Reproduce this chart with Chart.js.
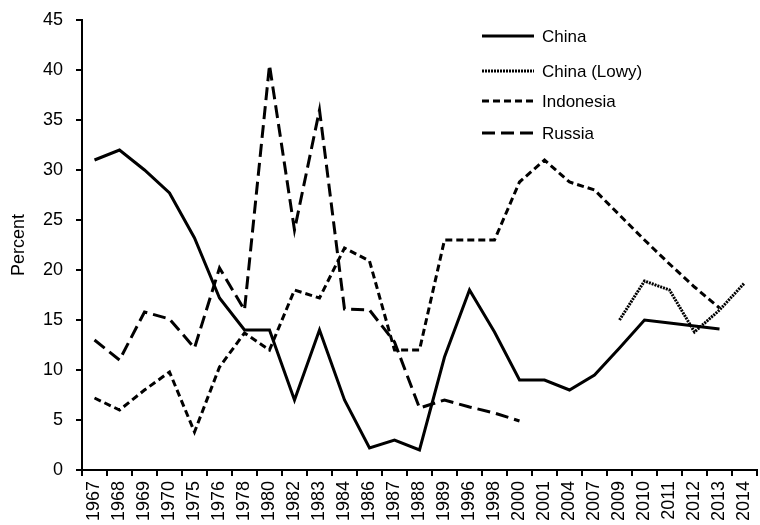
<!DOCTYPE html>
<html>
<head>
<meta charset="utf-8">
<script src="https://cdn.jsdelivr.net/npm/chart.js"></script>
<style>
  html, body { margin: 0; padding: 0; background: #fff; }
  #wrap { width: 760px; height: 525px; position: relative; }
</style>
</head>
<body>
<div id="wrap"><canvas id="chart"></canvas></div>
<script>
// categories (years, not evenly spaced)
const years = ['1967','1968','1969','1970','1975','1976','1978','1980','1982','1983','1984','1986','1987','1988','1989','1996','1998','2000','2001','2004','2007','2009','2010','2011','2012','2013','2014'];

// series values, percent
const china     = [31, 32, 30, 27.7, 23.2, 17.2, 14, 14, 7, 14, 7, 2.2, 3, 2, 11.3, 18, 13.8, 9, 9, 8, 9.5, 12.2, 15, 14.7, 14.4, 14.1, null];
const chinaLowy = [null, null, null, null, null, null, null, null, null, null, null, null, null, null, null, null, null, null, null, null, null, 15, 18.9, 18, 13.8, 16, 18.7];
const indonesia = [7.2, 6, 8, 9.8, 3.8, 10.3, 13.7, 12, 18, 17.2, 22.2, 20.9, 12, 12, 23, 23, 23, 28.8, 31, 28.8, 28, 25.5, 23, 20.6, 18.3, 16.2, null];
const russia    = [13, 11, 15.8, 15.1, 12.2, 20.2, 16, 40.5, 24, 36, 16.1, 16, 12.8, 6.2, 7, 6.3, 5.7, 4.9, null, null, null, null, null, null, null, null, null];

const yTicks = [0, 5, 10, 15, 20, 25, 30, 35, 40, 45];

const FONT = '"Liberation Sans", Arial, sans-serif';

function line(label, data, dash) {
    return {
        label: label,
        data: data,
        borderColor: '#000',
        backgroundColor: '#000',
        borderWidth: 3,
        borderDash: dash,
        pointRadius: 0,
        pointHoverRadius: 0,
        tension: 0,
        fill: false,
        spanGaps: false
    };
}

// legend drawn inside the plot, top right
const innerLegend = {
    id: 'innerLegend',
    afterDraw(chart) {
        const ctx = chart.ctx;
        const x0 = 482, x1 = 534, tx = 542;
        const rows = [36, 71, 101, 133];
        ctx.save();
        chart.data.datasets.forEach((ds, i) => {
            const y = rows[i];
            ctx.beginPath();
            ctx.setLineDash(ds.borderDash || []);
            ctx.lineWidth = 3;
            ctx.strokeStyle = '#000';
            ctx.moveTo(x0, y);
            ctx.lineTo(x1, y);
            ctx.stroke();
            ctx.setLineDash([]);
            ctx.fillStyle = '#000';
            ctx.font = '17px ' + FONT;
            ctx.textBaseline = 'middle';
            ctx.textAlign = 'left';
            ctx.fillText(ds.label, tx, y + 1);
        });
        ctx.restore();
    }
};

new Chart(document.getElementById('chart'), {
    type: 'line',
    data: {
        labels: years,
        datasets: [
            line('China', china, []),
            line('China (Lowy)', chinaLowy, [2, 1]),
            line('Indonesia', indonesia, [7, 4]),
            line('Russia', russia, [13, 6])
        ]
    },
    options: {
        responsive: true,
        maintainAspectRatio: false,
        animation: false,
        layout: { padding: { top: 20, right: 3, left: 0, bottom: 0 } },
        plugins: {
            legend: { display: false },
            tooltip: { enabled: false }
        },
        scales: {
            x: {
                type: 'category',
                offset: true,
                grid: {
                    display: true,
                    offset: true,
                    drawOnChartArea: false,
                    drawTicks: true,
                    tickLength: 6,
                    color: '#000',
                    lineWidth: 2
                },
                border: { display: true, color: '#000', width: 2 },
                ticks: {
                    color: '#000',
                    font: { family: FONT, size: 18 },
                    maxRotation: 90,
                    minRotation: 90,
                    autoSkip: false,
                    padding: 5
                },
                afterFit(scale) {
                    scale.height = 55;
                    scale.paddingLeft = 0;
                    scale.paddingRight = 0;
                }
            },
            y: {
                min: 0,
                max: 45,
                afterBuildTicks(scale) { scale.ticks = yTicks.map(v => ({ value: v })); },
                grid: {
                    display: true,
                    drawOnChartArea: false,
                    drawTicks: true,
                    tickLength: 6,
                    color: '#000',
                    lineWidth: 2
                },
                border: { display: true, color: '#000', width: 2 },
                ticks: {
                    color: '#000',
                    font: { family: FONT, size: 18 },
                    padding: 13
                },
                title: {
                    display: true,
                    text: 'Percent',
                    color: '#000',
                    font: { family: FONT, size: 18 },
                    padding: { top: 8, bottom: 0 }
                },
                afterFit(scale) {
                    scale.width = 82;
                    scale.paddingTop = 0;
                    scale.paddingBottom = 0;
                }
            }
        }
    },
    plugins: [innerLegend]
});
</script>
</body>
</html>
